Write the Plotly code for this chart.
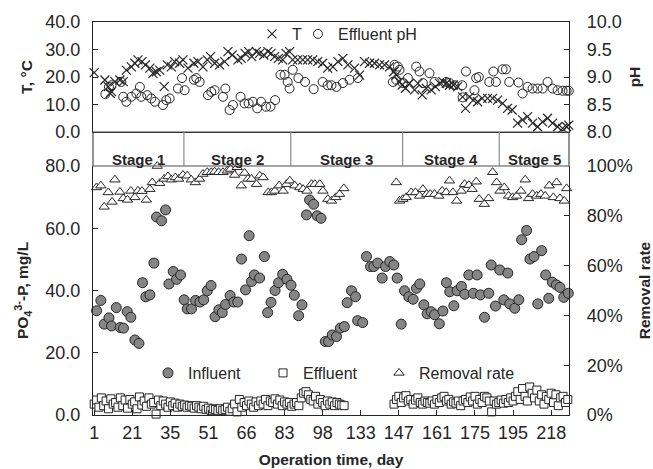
import plotly.graph_objects as go

# ---------------- data ----------------
tick_days = [1, 21, 35, 51, 66, 83, 98, 133, 147, 161, 175, 195, 218]
stage_names = ["Stage 1", "Stage 2", "Stage 3", "Stage 4", "Stage 5"]
stage_bounds = [37.7, 82.6, 129.6, 170.2]   # sample-index positions of stage changes

inf_idx = [1.0, 2.8, 4.2, 6.2, 7.3, 9.3, 10.9, 12.3, 13.9, 15.4, 17.1, 18.8, 20.3, 21.7, 23.4, 25.1, 26.2, 28.3,
           30.0, 31.4, 33.2, 34.6, 36.3, 37.8, 39.1, 40.9, 42.6, 44.4, 46.0, 47.5, 49.1, 50.8, 52.4, 53.8, 55.2,
           57.1, 58.7, 60.3, 61.9, 63.6, 65.1, 66.1, 67.3, 69.5, 71.5, 72.9, 74.3, 76.0, 77.5, 79.2, 81.0, 82.7,
           84.1, 85.9, 87.3, 89.2, 90.5, 92.2, 93.7, 95.3, 97.1, 98.5, 100.0, 101.8, 103.4, 105.1, 106.3, 108.1,
           109.8, 110.7, 112.8, 114.4, 116.1, 117.5, 119.1, 121.0, 122.4, 124.2, 125.9, 127.3, 129.0, 130.4,
           132.2, 134.0, 135.4, 136.8, 138.5, 139.9, 141.6, 143.0, 145.0, 146.5, 148.0, 149.4, 151.1, 152.5,
           154.3, 155.7, 157.4, 159.3, 160.9, 162.3, 164.0, 165.8, 166.8, 168.6, 170.4, 172.1, 173.8, 174.6,
           176.7, 178.4, 179.6, 181.7, 183.1, 184.8, 186.4, 188.0, 189.7, 191.0, 192.5, 194.2, 195.7, 197.3, 199.2]
inf_val = [33.5, 36.8, 29.2, 31.2, 28.6, 34.5, 28.1, 27.9, 33.2, 31.4, 24.1, 23.0, 42.5, 38.0, 38.6, 48.8, 63.6, 62.4,
           65.9, 42.1, 46.1, 43.6, 45.0, 37.0, 34.1, 34.1, 36.8, 36.3, 37.0, 39.9, 41.6, 31.6, 33.8, 32.9, 35.5,
           38.4, 36.3, 36.3, 50.1, 40.2, 57.6, 42.9, 45.0, 44.0, 50.9, 32.9, 36.2, 40.0, 42.5, 45.2, 43.6, 41.7,
           38.5, 31.9, 35.4, 64.3, 69.1, 67.7, 64.0, 63.2, 23.6, 23.6, 25.7, 25.2, 27.9, 28.4, 36.1, 39.9,
           38.0, 30.3, 29.7, 50.9, 47.7, 47.7, 48.8, 44.0, 47.7, 49.3, 48.2, 44.0, 29.2, 39.9,
           38.0, 37.2, 40.7, 42.1, 35.4, 32.5, 33.2, 32.2, 29.3, 33.4, 42.5, 39.6, 35.1, 39.9,
           41.3, 38.8, 45.0, 39.1, 45.0, 38.6, 31.4, 39.1, 48.2, 35.0, 46.6, 37.0, 45.6, 35.7,
           34.3, 37.0, 56.3, 59.3, 50.1, 50.9, 35.7, 52.8, 45.0, 37.5, 42.7, 41.8, 41.0, 37.8, 39.1]

eff_start_1 = 0
eff_val_1 = [3.5, 4.8, 2.5, 5.5, 3.0, 4.5, 2.0, 5.2, 3.5, 4.0, 2.5, 5.5, 3.0, 4.8, 2.2, 5.0, 3.5, 4.2, 2.0, 5.8, 3.2,
             4.5, 2.8, 5.5, 3.5, 4.0, 0.3, 4.8, 3.0, 4.5, 3.5, 2.5, 4.2, 3.0, 3.8, 2.5, 3.5, 2.8, 3.2, 2.5, 3.0,
             2.8, 2.2, 3.0, 2.5, 2.0, 2.8, 1.8, 2.2, 1.5, 2.0, 1.8, 1.5, 2.0, 1.5, 1.8, 2.5, 1.2, 2.0, 3.5, 1.0,
             5.0, 2.5, 4.0, 3.0, 4.5, 3.5, 2.5, 4.2, 3.0, 4.5, 3.5, 5.0, 3.0, 4.5, 4.0, 5.2, 3.5, 4.8, 3.0, 4.2,
             3.5, 4.0, 2.8, 3.5, 4.0, 3.0, 5.5, 7.0, 7.5, 6.5, 5.0, 4.5, 6.0, 3.5, 5.0, 4.0, 3.0, 4.5, 3.5, 4.2,
             3.0, 4.0, 3.5, 3.2, 3.0]
eff_start_2 = 126
eff_val_2 = [3.5, 5.0, 6.0, 4.0, 5.5, 6.2, 4.5, 5.0, 3.5, 4.8, 5.5, 4.0, 3.5, 4.5, 4.0, 3.8, 4.5, 3.5, 5.0, 4.0,
             5.5, 6.0, 4.5, 5.0, 3.5, 4.2, 3.8, 4.5, 3.0, 4.5, 5.0, 4.0, 5.8, 4.5, 6.0, 3.5, 5.0, 4.0, 6.0, 5.5,
             4.5, 1.0, 4.5, 3.5, 4.0, 4.8, 3.8, 5.0, 4.0, 5.5, 4.5, 6.0, 7.5, 5.0, 8.5, 6.0, 4.5, 9.0, 7.0, 5.5,
             8.0, 4.5, 6.5, 3.5, 6.0, 5.0, 7.0, 4.0, 6.5, 3.0, 5.5, 6.0, 4.0, 5.0]

rem_idx = [1.0, 2.8, 4.2, 5.9, 7.5, 8.7, 10.8, 12.2, 14.0, 15.4, 17.1, 18.4, 20.1, 21.9, 23.4, 24.4, 26.5, 27.5,
           29.4, 31.0, 32.4, 34.1, 35.5, 37.3, 39.1, 40.8, 42.5, 44.3, 45.7, 47.5, 49.2, 50.6, 52.3, 54.1, 55.9,
           57.3, 59.0, 60.1, 61.8, 63.2, 64.6, 66.1, 68.2, 69.6, 71.0, 73.1, 74.5, 75.9, 77.7, 79.4, 80.8, 82.2,
           84.3, 86.4, 87.8, 89.4, 91.3, 92.7, 94.8, 96.1, 98.2, 99.7, 101.5, 103.1, 104.9,
           126.9, 128.3, 129.7, 131.1, 133.2, 135.0, 136.7, 138.1, 139.7, 141.2, 143.0, 144.8, 146.2, 147.9,
           149.3, 150.7, 152.3, 154.2, 155.6, 157.4, 158.8, 160.5, 161.8, 163.9, 165.7, 167.4, 169.1, 170.5,
           172.3, 174.1, 175.8, 177.5, 179.3, 181.1, 182.5, 184.2, 185.9, 187.7, 189.5, 191.2, 192.9, 194.3,
           195.7, 197.5, 198.5]
rem_val = [91.4, 92.1, 83.6, 89.4, 85.6, 94.5, 89.6, 87.0, 86.4, 90.0, 87.4, 90.0, 89.9, 86.4, 90.7, 93.4, 100.0, 93.1,
           94.8, 95.8, 94.5, 95.4, 94.8, 96.4, 96.1, 94.5, 93.4, 94.8, 96.8, 97.5, 97.5, 97.7, 97.5, 97.5, 98.1,
           98.8, 96.4, 99.5, 92.1, 97.2, 94.8, 94.8, 92.7, 96.1, 95.4, 89.4, 89.4, 90.0, 92.1, 90.0, 92.7, 94.1,
           92.1, 91.4, 90.7, 90.0, 92.7, 92.7, 92.7, 90.0, 86.7, 86.0, 87.4, 88.7, 91.0,
           93.4, 86.0, 86.7, 87.4, 89.4, 89.4, 88.0, 90.7, 88.7, 88.7, 88.7, 88.0, 90.0, 89.4,
           94.1, 89.4, 86.0, 90.0, 92.7, 92.3, 90.7, 93.7, 86.7, 84.7, 87.0, 97.5, 93.4, 90.0,
           91.4, 88.0, 87.4, 88.0, 90.0, 94.5, 87.0, 88.7, 88.0, 88.7, 88.0, 92.1, 87.4, 93.4,
           87.0, 86.0, 91.0]

t_idx = [0.0, 4.5, 5.9, 6.7, 7.3, 8.7, 10.8, 12.2, 13.5, 15.6, 17.1, 18.4, 20.1, 21.5, 23.4, 24.7, 26.1, 27.5, 29.4,
         30.7, 32.4, 33.8, 35.9, 37.3, 39.4, 41.9, 43.6, 45.7, 47.5, 48.9, 50.6, 52.7, 54.8, 56.2, 58.0, 60.4,
         61.8, 63.4, 64.9, 66.2, 68.1, 69.5, 71.3, 73.0, 74.3, 75.8, 77.4, 79.2, 80.6, 82.1, 83.4, 85.5, 87.6,
         89.7, 91.8, 93.9, 96.0, 98.1, 100.3, 102.4, 104.5, 106.6, 109.4, 111.5, 113.6, 115.7, 117.8, 119.9,
         122.0, 124.1, 125.8, 126.9, 128.3, 129.4, 130.8, 132.5, 134.6, 136.0, 137.8, 139.5, 141.6, 143.4,
         145.1, 146.5, 147.9, 149.3, 150.9, 152.7, 154.8, 156.0, 157.7, 159.3, 161.1, 163.0, 165.3, 167.4,
         169.5, 171.6, 173.7, 175.6, 177.9, 180.0, 182.1, 184.2, 186.3, 188.4, 190.5, 192.6, 194.7, 196.8,
         198.5, 199.4]
t_val = [21.6, 18.9, 16.5, 14.1, 14.7, 18.3, 18.9, 18.3, 22.5, 23.7, 25.0, 26.2, 25.6, 24.4, 23.2, 21.3, 21.9, 22.5, 16.5,
         24.4, 23.7, 25.6, 25.0, 26.2, 23.2, 25.0, 25.6, 23.7, 26.2, 27.4, 25.0, 24.4, 25.6, 29.2, 28.0, 26.2,
         26.8, 28.6, 29.2, 27.4, 29.2, 28.6, 28.0, 29.2, 28.6, 27.4, 26.8, 26.2, 28.6, 29.2, 26.2, 26.2, 26.2,
         26.2, 26.2, 25.6, 25.0, 23.2, 23.7, 25.6, 26.8, 24.4, 23.2, 20.7, 25.6, 25.0, 25.0, 24.4,
         24.4, 23.7, 21.9, 20.7, 18.3, 17.1, 15.9, 17.7, 15.3, 17.7, 13.5, 15.9, 15.3, 16.5,
         17.7, 18.3, 17.7, 17.1, 17.1, 16.5, 12.8, 8.6, 12.8, 11.6, 11.0, 12.2, 12.2, 12.2,
         11.6, 10.4, 8.6, 8.0, 3.2, 4.4, 5.6, 3.2, 1.9, 3.7, 5.0, 3.2, 1.9, 1.3,
         1.9, 2.5]

ph_idx = [4.7, 6.2, 7.3, 11.4, 12.2, 13.5, 15.6, 17.7, 19.2, 19.8, 22.3, 24.0, 25.5, 28.9, 30.3, 31.7, 35.2, 36.9,
          38.0, 41.9, 42.9, 44.3, 47.8, 49.2, 50.6, 54.1, 55.1, 56.9, 58.3, 61.5, 63.2, 64.9, 66.7, 68.5, 70.1,
          72.2, 74.1, 76.0, 78.3, 80.0, 81.3, 82.1, 83.4, 85.8, 88.6, 92.2, 96.0, 98.1, 99.7, 101.8, 104.5,
          107.3, 110.8, 125.5, 126.2, 126.9, 127.6, 128.3, 129.7, 131.8, 135.3, 136.7, 138.1, 140.9, 143.0,
          147.9, 149.3, 151.4, 154.6, 154.8, 156.2, 159.8, 160.5, 161.6, 166.0, 167.7, 168.8, 171.6, 173.0,
          174.4, 178.3, 180.0, 182.1, 184.2, 186.3, 188.4, 190.5, 192.6, 194.7, 196.8, 198.5, 199.4]
ph_val = [8.69, 8.82, 8.85, 8.91, 8.64, 8.55, 8.64, 8.70, 8.82, 8.64, 8.67, 8.61, 8.55, 8.49, 8.58, 8.61, 8.79, 8.98,
          8.76, 8.95, 8.98, 8.91, 8.67, 8.73, 8.76, 8.64, 8.79, 8.40, 8.49, 8.64, 8.52, 8.52, 8.55, 8.43, 8.55,
          8.46, 8.46, 8.58, 9.04, 9.04, 8.91, 8.79, 9.13, 8.98, 8.91, 8.78, 8.91, 8.85, 8.85, 8.82, 8.89,
          8.95, 8.98, 8.91, 9.22, 8.95, 9.19, 9.13, 8.89, 8.98, 9.19, 9.10, 8.89, 9.07, 8.91,
          8.91, 8.89, 8.85, 8.85, 8.63, 9.10, 8.76, 8.98, 9.00, 8.91, 9.10, 8.91, 9.14, 9.14,
          8.91, 8.90, 8.70, 8.82, 8.79, 8.79, 8.79, 8.91, 8.79, 8.76, 8.75, 8.75, 8.75]

# ---------------- figure ----------------
DARK = "#262626"
FONT = "Liberation Sans, Arial, sans-serif"
tick_pos = [16 * i for i in range(len(tick_days))]
eff_idx = list(range(eff_start_1, eff_start_1 + len(eff_val_1))) + list(range(eff_start_2, eff_start_2 + len(eff_val_2)))
eff_val = eff_val_1 + eff_val_2

PLOT_L, PLOT_W, PLOT_H, PLOT_B = 93, 476, 393, 415
bot_top = 249 / PLOT_H
top_bot = 283 / PLOT_H

fig = go.Figure()
fig.add_trace(go.Scatter(x=inf_idx, y=inf_val, mode="markers", name="Influent", xaxis="x", yaxis="y",
                         marker=dict(symbol="circle", size=10, color="#858585", line=dict(color=DARK, width=1)),
                         legend="legend3", cliponaxis=False))
fig.add_trace(go.Scatter(x=eff_idx, y=eff_val, mode="markers", name="Effluent", xaxis="x", yaxis="y",
                         marker=dict(symbol="square", size=8, color="white", line=dict(color=DARK, width=1)),
                         legend="legend4", cliponaxis=False))
fig.add_trace(go.Scatter(x=rem_idx, y=rem_val, mode="markers", name="Removal rate", xaxis="x", yaxis="y2",
                         marker=dict(symbol="triangle-up", size=9, color="white", line=dict(color=DARK, width=1)),
                         legend="legend5", cliponaxis=False))
fig.add_trace(go.Scatter(x=t_idx, y=t_val, mode="markers", name="T", xaxis="x2", yaxis="y3",
                         marker=dict(symbol="x-thin-open", size=9, color=DARK, line=dict(color=DARK, width=1.2)),
                         legend="legend", cliponaxis=False))
fig.add_trace(go.Scatter(x=ph_idx, y=ph_val, mode="markers", name="Effluent pH", xaxis="x2", yaxis="y4",
                         marker=dict(symbol="circle-open", size=9, color=DARK, line=dict(color=DARK, width=1)),
                         legend="legend2", cliponaxis=False))

axis_common = dict(showgrid=False, zeroline=False, showline=True, linecolor=DARK, linewidth=1.2, automargin=False,
                   ticks="inside", ticklen=5, tickcolor=DARK, tickfont=dict(size=18, color=DARK, family=FONT))
title_font = dict(size=15.5, color=DARK, family=FONT)


def legend_at(px_left, py_mid):
    return dict(orientation="h", x=(px_left - PLOT_L) / PLOT_W, y=(PLOT_B - py_mid) / PLOT_H,
                xanchor="left", yanchor="middle", bgcolor="rgba(0,0,0,0)",
                font=dict(size=16, color=DARK, family=FONT), itemwidth=30)


xr = [-0.5, 199.5]
fig.update_layout(
    width=653, height=469,
    margin=dict(l=93, r=84, t=22, b=54, autoexpand=False),
    paper_bgcolor="white", plot_bgcolor="white",
    font=dict(family=FONT, color=DARK),
    xaxis=dict(axis_common, domain=[0, 1], anchor="y", range=xr, tickvals=tick_pos, ticktext=[str(d) for d in tick_days],
               ticklabelstandoff=1,
               title=dict(text="<b>Operation time, day</b>", font=title_font, standoff=12)),
    yaxis=dict(axis_common, domain=[0, bot_top], anchor="x", range=[0, 80], dtick=20, tickformat=".1f",
               ticklabelstandoff=8,
               title=dict(text="<b>PO<sub>4</sub><sup>3-</sup>-P, mg/L</b>", font=title_font, standoff=12)),
    yaxis2=dict(axis_common, overlaying="y", side="right", anchor="x", range=[0, 100], dtick=20, ticksuffix="%",
                ticklabelstandoff=13,
                title=dict(text="<b>Removal rate</b>", font=title_font, standoff=8)),
    xaxis2=dict(axis_common, domain=[0, 1], anchor="y3", matches="x", range=xr, showticklabels=False, ticks="",
                mirror=True),
    yaxis3=dict(axis_common, domain=[top_bot, 1], anchor="x2", range=[0, 40], dtick=10, tickformat=".1f",
                ticklabelstandoff=8,
                title=dict(text="<b>T, °C</b>", font=title_font, standoff=8)),
    yaxis4=dict(axis_common, overlaying="y3", side="right", anchor="x2", range=[8, 10], dtick=0.5, tickformat=".1f",
                ticklabelstandoff=13,
                title=dict(text="<b>pH</b>", font=title_font, standoff=8)),
    legend=legend_at(252, 34),
    legend2=legend_at(298, 34),
    legend3=legend_at(148, 373),
    legend4=legend_at(263, 373),
    legend5=legend_at(379, 373),
    showlegend=True,
)

# stage band
shapes = [dict(type="rect", xref="paper", yref="paper", x0=0, x1=1, y0=bot_top, y1=top_bot,
               line=dict(color="#4d4d4d", width=1.2), fillcolor="rgba(0,0,0,0)", layer="above")]
for b in stage_bounds:
    shapes.append(dict(type="line", xref="x", yref="paper", x0=b, x1=b, y0=bot_top, y1=top_bot,
                       line=dict(color="#8c8c8c", width=1.2)))
fig.update_layout(shapes=shapes)

edges = [xr[0]] + stage_bounds + [xr[1]]
for i, name in enumerate(stage_names):
    fig.add_annotation(x=(edges[i] + edges[i + 1]) / 2, y=(bot_top + top_bot) / 2, xref="x", yref="paper",
                       text=f"<b>{name}</b>", showarrow=False, font=dict(size=15, color=DARK, family=FONT))

fig.write_html("out.html")
